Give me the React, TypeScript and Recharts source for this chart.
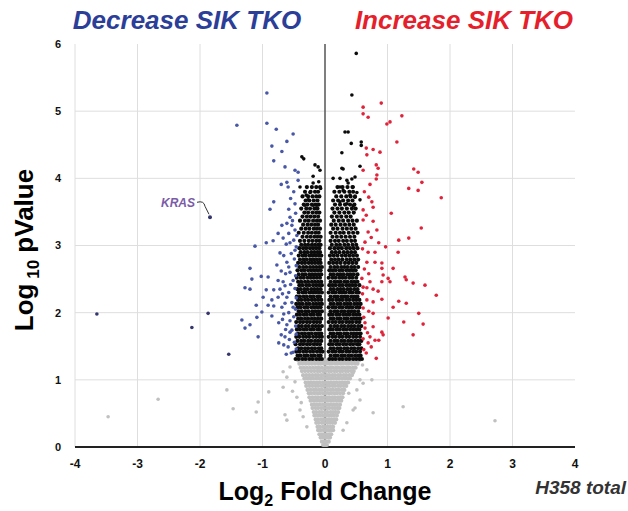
import React from 'react';
import { ScatterChart, Scatter, XAxis, YAxis, CartesianGrid } from 'recharts';

const xTicks = [-4, -3, -2, -1, 0, 1, 2, 3, 4];
const yTicks = [0, 1, 2, 3, 4, 5, 6];

// significant, down in SIK TKO  [log2FC, -log10 p]
const decreasePoints = [
  [-0.93, 5.27], [-1.41, 4.79], [-0.93, 4.82], [-0.78, 4.73], [-0.51, 4.66], [-0.61, 4.55],
  [-0.85, 4.48], [-0.69, 4.4], [-0.82, 4.26], [-0.64, 4.17], [-0.48, 4.12], [-0.43, 4.09],
  [-0.61, 3.94], [-0.7, 3.91], [-0.59, 3.87], [-0.43, 3.97], [-0.82, 3.65], [-0.88, 3.54],
  [-0.58, 3.54], [-0.56, 3.42], [-0.69, 3.3], [-0.61, 3.33], [-0.53, 3.3], [-0.48, 3.23],
  [-0.75, 3.18], [-0.67, 3.11], [-0.56, 3.04], [-0.48, 2.93], [-1.12, 2.99], [-0.94, 3.04],
  [-0.83, 3.07], [-0.72, 2.89], [-0.61, 2.75], [-0.77, 2.71], [-1.2, 2.66], [-1.17, 2.5],
  [-1.02, 2.54], [-0.91, 2.53], [-0.75, 2.48], [-0.67, 2.46], [-0.56, 2.6], [-0.51, 2.48],
  [-1.28, 2.37], [-1.2, 2.35], [-0.94, 2.34], [-0.82, 2.34], [-0.72, 2.35], [-0.99, 2.23],
  [-0.85, 2.19], [-0.75, 2.23], [-0.61, 2.23], [-1.1, 2.11], [-0.91, 2.11], [-0.82, 2.1],
  [-0.69, 2.08], [-0.51, 2.08], [-1.01, 2.01], [-1.09, 1.93], [-0.85, 1.95], [-1.33, 1.89],
  [-1.2, 1.82], [-1.28, 1.77], [-0.74, 1.85], [-0.61, 1.82], [-0.56, 1.71], [-1.07, 1.64],
  [-0.7, 1.67], [-0.64, 1.64], [-0.74, 1.55], [-0.59, 1.49], [-0.51, 1.41],
  [-0.47, 3.48], [-0.52, 3.37], [-0.45, 3.15], [-0.58, 3.18], [-0.5, 3.08], [-0.62, 3.02],
  [-0.46, 2.98], [-0.54, 2.88], [-0.66, 2.85], [-0.49, 2.8], [-0.58, 2.68], [-0.46, 2.7],
  [-0.7, 2.62], [-0.63, 2.58], [-0.47, 2.55], [-0.55, 2.42], [-0.64, 2.4], [-0.48, 2.36],
  [-0.58, 2.3], [-0.68, 2.28], [-0.46, 2.22], [-0.53, 2.15], [-0.64, 2.14], [-0.47, 2.05],
  [-0.58, 2.0], [-0.66, 1.98], [-0.5, 1.94], [-0.56, 1.88], [-0.68, 1.9], [-0.47, 1.8],
  [-0.53, 1.74], [-0.63, 1.75], [-0.46, 1.68], [-0.57, 1.6], [-0.49, 1.56], [-0.66, 1.52],
  [-0.46, 1.46], [-0.54, 1.4], [-0.62, 1.38], [-0.48, 3.62], [-0.55, 3.7], [-0.5, 3.8],
];

const decreaseFar = [[-3.65, 1.98], [-2.13, 1.78], [-1.87, 1.99], [-1.54, 1.38]];
const krasPoint = [[-1.84, 3.42]];

// significant, up in SIK TKO
const increasePoints = [
  [0.61, 5.06], [0.9, 5.12], [0.61, 4.96], [0.69, 4.91], [1.23, 4.93], [0.99, 4.81],
  [1.04, 4.84], [1.15, 4.54], [0.66, 4.45], [0.77, 4.43], [0.88, 4.39], [0.67, 4.35],
  [0.61, 4.12], [0.82, 4.2], [0.85, 4.15], [0.83, 4.05], [0.82, 3.99], [0.72, 3.91],
  [1.42, 4.14], [1.49, 4.09], [1.55, 3.94], [1.34, 3.85], [1.49, 3.82], [1.86, 3.71],
  [0.75, 3.65], [0.77, 3.57], [1.06, 3.48], [0.61, 3.53], [0.61, 3.38], [0.77, 3.36],
  [1.54, 3.26], [0.69, 3.2], [0.83, 3.23], [0.86, 3.04], [1.18, 3.08], [1.34, 3.11],
  [1.17, 2.9], [0.64, 3.05], [0.69, 2.9], [0.8, 2.9], [0.67, 2.75], [0.8, 2.75],
  [0.91, 2.74], [0.91, 2.66], [1.09, 2.66], [1.01, 2.51], [1.04, 2.46], [0.91, 2.46],
  [1.28, 2.53], [1.3, 2.49], [1.41, 2.44], [1.6, 2.41], [1.78, 2.26], [0.59, 2.51],
  [0.61, 2.38], [0.72, 2.46], [0.67, 2.37], [0.77, 2.35], [0.85, 2.32], [0.91, 2.2],
  [1.18, 2.17], [1.3, 2.14], [1.09, 2.08], [0.67, 2.19], [0.77, 2.16], [0.61, 2.07],
  [0.77, 1.99], [1.5, 1.99], [1.01, 1.92], [1.26, 1.86], [1.57, 1.83], [1.41, 1.67],
  [0.64, 1.85], [0.77, 1.79], [0.64, 1.77], [0.91, 1.71], [0.72, 1.64], [0.61, 1.61],
  [0.86, 1.59], [0.93, 1.67], [0.69, 1.55], [0.8, 1.59], [0.74, 1.49], [0.82, 1.32],
  [0.63, 3.8], [0.7, 3.72], [0.66, 3.45], [0.74, 3.12], [0.6, 2.95], [0.63, 2.65],
  [0.7, 2.58], [0.6, 2.28], [0.7, 2.02], [0.62, 1.93], [0.68, 1.7], [0.62, 1.45],
  [0.66, 1.4], [0.97, 2.98], [0.93, 2.56],
];

// significant but small fold change, scattered top of the two columns
const blackSparse = [
  [0.5, 5.86], [0.43, 5.24], [0.32, 4.69], [0.37, 4.69], [0.42, 4.52], [0.58, 4.54],
  [0.58, 4.49], [0.27, 4.38], [0.56, 4.18], [0.29, 4.14], [0.13, 4.0], [0.24, 4.0],
  [0.35, 3.97], [0.43, 3.99], [0.48, 4.02], [0.27, 4.15], [0.24, 3.87], [0.29, 3.82],
  [0.37, 3.93], [0.45, 3.87], [0.51, 3.79], [0.4, 3.75], [0.48, 3.72], [0.56, 3.68],
  [0.24, 3.65], [0.35, 3.62], [0.45, 3.59],
  [-0.37, 4.32], [-0.34, 4.29], [-0.16, 4.2], [-0.11, 4.17], [-0.08, 4.12], [-0.19, 3.93],
  [-0.4, 3.87], [-0.24, 3.79], [-0.3, 3.75], [-0.27, 3.68], [-0.32, 3.6], [-0.19, 3.6],
  [-0.13, 3.6], [-0.19, 4.03], [-0.1, 3.95], [-0.07, 3.85],
];

// dense part of the black columns, one line per -log10 p row (hundredths): log2FC values
const blackRows = `
131: -47 -42 -36 -31 -25 -20 -14 -9 -5 7 12 17 23 28 34 39 45 50 55 59
136: -44 -39 -33 -28 -22 -17 -11 -7 9 15 20 26 31 37 42 48 53 57
142: -46 -41 -35 -30 -24 -19 -13 -8 -4 6 12 17 23 28 34 39 45 50 56
147: -43 -38 -32 -27 -21 -16 -10 -6 9 14 20 25 31 36 42 47 53 58
153: -47 -40 -35 -29 -24 -18 -13 -8 7 12 18 23 29 34 40 45 51 55
158: -44 -38 -33 -27 -22 -16 -11 -6 9 15 20 26 31 37 42 48 53 58
164: -46 -41 -35 -30 -25 -19 -14 -9 -5 6 12 17 23 28 34 39 45 50 56
169: -43 -37 -32 -26 -21 -15 -10 -6 9 14 20 25 31 36 42 47 52 57
175: -45 -40 -34 -29 -23 -18 -12 -8 7 12 18 23 29 34 40 45 50 55
180: -42 -37 -31 -26 -20 -15 -10 -5 9 15 20 26 31 37 42 47 53 58
186: -46 -40 -35 -29 -24 -18 -13 -8 6 12 17 23 28 34 39 44 50 55
191: -43 -38 -32 -27 -21 -16 -11 -6 9 14 20 25 31 36 42 47 52 57
197: -45 -40 -34 -29 -23 -18 -12 -8 7 12 18 23 29 34 39 45 50 55
202: -42 -37 -31 -26 -20 -15 -10 -5 9 15 20 26 31 37 42 47 53
208: -44 -39 -33 -28 -22 -17 -12 -7 6 12 17 23 28 34 39 44 50 55
213: -46 -41 -36 -30 -25 -19 -14 -9 -5 9 14 20 25 31 36 41 47 52 57
219: -43 -38 -32 -27 -21 -16 -11 -6 7 12 18 23 28 34 39 45 50 55
224: -45 -40 -34 -29 -23 -18 -12 -8 9 15 20 26 31 36 42 47 52
230: -42 -36 -31 -25 -20 -15 -10 -5 6 12 17 23 28 33 39 44 50 54
235: -44 -39 -33 -28 -22 -17 -12 -7 9 14 20 25 30 36 41 47 52
241: -41 -36 -30 -25 -19 -14 -9 -5 7 12 17 23 28 34 39 44 49 55
246: -43 -38 -32 -27 -21 -16 -11 -6 9 15 20 25 31 36 42 47 52
252: -45 -39 -34 -28 -23 -18 -13 -8 6 12 17 23 28 33 39 44 50
257: -42 -36 -31 -25 -20 -15 -10 -6 9 14 20 25 30 36 41 46 52
263: -44 -38 -33 -27 -22 -17 -12 -7 7 12 17 23 28 34 39 44 49
268: -41 -35 -30 -24 -19 -14 -9 -5 9 15 20 26 31 36 42 47 53
274: -43 -37 -32 -26 -21 -16 -11 -7 7 13 19 25 32 38 44 50
279: -40 -34 -29 -23 -18 -13 -8 10 16 22 28 35 41 47 53
285: -42 -36 -31 -25 -20 -15 -10 -6 8 14 20 27 33 39 45 51
290: -39 -33 -28 -22 -17 -12 -8 11 17 23 30 36 42 48
296: -41 -35 -30 -24 -19 -14 -9 8 15 21 27 34 40 46 52
301: -38 -32 -27 -21 -16 -11 -7 11 18 24 31 37 44 50
307: -40 -33 -26 -20 -14 -9 9 16 22 29 35 42 48
313: -36 -29 -23 -17 -12 -7 12 19 26 33 40 47
319: -42 -34 -27 -21 -15 -10 9 17 24 30 38 45 52
325: -38 -31 -25 -18 -13 -8 13 20 28 35 42 49
331: -35 -28 -22 -16 -11 10 17 25 32 39 46
337: -40 -32 -26 -19 -13 -8 14 22 29 37 44 51
343: -36 -29 -23 -17 -11 11 19 26 34 41
349: -33 -27 -20 -14 -9 15 23 31 38 46
355: -38 -30 -24 -17 -12 12 20 27 35 43 49
361: -34 -28 -21 -15 -10 16 24 32 40 47
367: -31 -25 -18 -12 13 21 29 37 44
373: -36 -27 -20 -14 -9 18 26 34 41 48
380: -32 -23 -16 -11 15 23 31 39 45
387: -29 -21 -14 -8 20 28 36 44
`;

// not significant, same layout
const grayRows = `
3: -3 0 3
8: -5 -1 2 6
14: -7 -3 1 5 8
19: -9 -5 -1 3 7 10
25: -11 -7 -2 2 6 10 13
30: -12 -8 -3 1 5 9 13
36: -14 -10 -5 -1 4 8 12 16
41: -15 -11 -6 -2 3 7 11 15 18
47: -17 -12 -8 -3 1 6 10 14 19
52: -18 -14 -9 -5 0 4 9 13 17 21
58: -20 -15 -11 -6 -2 3 7 12 16 20 23
63: -21 -17 -12 -8 -3 1 6 10 15 19 24
69: -23 -18 -14 -9 -5 0 4 9 13 18 22 26
74: -25 -20 -15 -11 -6 -2 3 7 12 16 21 25 28
80: -26 -22 -17 -12 -8 -3 1 6 10 15 19 24 29
85: -28 -23 -18 -14 -9 -5 0 4 9 13 18 22 27 31
91: -30 -25 -20 -15 -11 -6 -2 3 7 12 16 21 25 30 34
96: -31 -26 -22 -17 -12 -8 -3 1 6 10 15 19 24 28 33 37
102: -33 -28 -23 -19 -14 -9 -5 0 4 9 13 18 22 27 31 36 40
107: -35 -30 -25 -20 -15 -11 -6 -2 3 7 12 16 21 25 30 34 39 43
113: -37 -32 -27 -22 -17 -12 -8 -3 1 6 10 15 19 24 28 33 37 42 46
118: -39 -34 -29 -24 -19 -14 -10 -5 0 4 9 13 18 22 27 31 36 40 45 49
124: -41 -36 -31 -26 -21 -16 -11 -7 -2 2 7 11 16 20 25 29 34 38 43 48 52
129: -43 -38 -33 -28 -23 -18 -13 -9 -4 1 5 10 14 19 23 28 32 37 41 46 51 55
`;

const graySparse = [
  [-3.47, 0.45], [-2.67, 0.71], [-1.57, 0.85], [-1.47, 0.57], [-1.1, 0.52], [-1.07, 0.67],
  [-0.9, 0.82], [-0.67, 0.89], [-0.64, 0.48], [-0.61, 0.4], [1.25, 0.6], [0.77, 0.51],
  [2.72, 0.39], [-0.67, 1.12], [-0.56, 1.19], [-0.61, 1.04], [-0.48, 0.97], [-0.45, 0.74],
  [-0.4, 0.55], [-0.35, 0.45], [-0.29, 0.3], [0.45, 1.1], [0.51, 0.85], [0.56, 0.7],
  [0.45, 0.55], [0.35, 0.36], [0.29, 0.25], [0.67, 1.15], [0.61, 0.95], [0.75, 1.0],
  [0.56, 1.0], [0.48, 0.58], [-0.52, 0.83], [-0.38, 0.66], [0.38, 0.8], [0.6, 1.22],
];

const toPts = (a: number[][]) => a.map(([x, y]) => ({ x, y }));
const parseRows = (rows: string) =>
  rows
    .trim()
    .split('\n')
    .flatMap((line) => {
      const [y, xs] = line.split(':');
      return xs.trim().split(/\s+/).map((v) => ({ x: Number(v) / 100, y: Number(y) / 100 }));
    });

const dot = (fill: string, r = 1.8) => (p: any) => <circle cx={p.cx} cy={p.cy} r={r} fill={fill} />;

const krasShape = (p: any) => (
  <g>
    <circle cx={p.cx} cy={p.cy} r={2} fill='#34366e' />
    <path
      d={`M${p.cx - 13},${p.cy - 15} Q${p.cx - 6},${p.cy - 17} ${p.cx - 5},${p.cy - 11} L${p.cx - 1},${p.cy - 3}`}
      stroke='#333'
      strokeWidth={1}
      fill='none'
    />
    <text
      x={p.cx - 15}
      y={p.cy - 10}
      textAnchor='end'
      fontFamily='Arial, Liberation Sans, sans-serif'
      fontSize={12}
      fontWeight='bold'
      fontStyle='italic'
      fill='#7a5ba8'
    >
      KRAS
    </text>
  </g>
);

const gridH = (p: any) =>
  p.y1 < 50 || p.y1 > 440 ? (
    <g key={p.key} />
  ) : (
    <line key={p.key} x1={p.x1} x2={p.x2} y1={p.y1} y2={p.y2} stroke='#dedede' strokeWidth={1} />
  );

// the 0 line doubles as the y axis
const gridV = (p: any) => {
  if (p.x1 > 570) return <g key={p.key} />;
  const zero = p.index === 4;
  return (
    <line
      key={p.key}
      x1={p.x1}
      x2={p.x2}
      y1={p.y1}
      y2={p.y2}
      stroke={zero ? '#555' : '#dedede'}
      strokeWidth={zero ? 1.5 : 1}
    />
  );
};

const tickStyle = { fontSize: 11, fontWeight: 'bold', fill: '#111', fontFamily: 'Arial, Liberation Sans, sans-serif' };
const font = 'Arial, Liberation Sans, sans-serif';

const App = () => {
  return (
    <div style={{ position: 'absolute', left: 0, top: 0, width: 628, height: 511, background: '#fff' }}>
      <ScatterChart width={628} height={511} margin={{ top: 44, right: 53, bottom: 34, left: 45 }}>
        <CartesianGrid horizontal={gridH} vertical={gridV} />
        <XAxis
          type='number'
          dataKey='x'
          domain={[-4, 4]}
          ticks={xTicks}
          interval={0}
          tickLine={false}
          tickMargin={6}
          axisLine={{ stroke: '#222', strokeWidth: 2 }}
          tick={{ ...tickStyle, fontSize: 12 }}
          height={30}
        />
        <YAxis
          type='number'
          dataKey='y'
          domain={[0, 6]}
          ticks={yTicks}
          interval={0}
          tickLine={false}
          axisLine={false}
          tickMargin={8}
          tick={tickStyle}
          width={30}
        />
        <Scatter data={parseRows(grayRows)} shape={dot('#c0c0c0', 2.1)} isAnimationActive={false} />
        <Scatter data={toPts(graySparse)} shape={dot('#c0c0c0')} isAnimationActive={false} />
        <Scatter data={parseRows(blackRows)} shape={dot('#0b0b0b', 2.1)} isAnimationActive={false} />
        <Scatter data={toPts(blackSparse)} shape={dot('#0b0b0b')} isAnimationActive={false} />
        <Scatter data={toPts(decreasePoints)} shape={dot('#4858a6')} isAnimationActive={false} />
        <Scatter data={toPts(decreaseFar)} shape={dot('#34366e')} isAnimationActive={false} />
        <Scatter data={toPts(increasePoints)} shape={dot('#e0223a')} isAnimationActive={false} />
        <Scatter data={toPts(krasPoint)} shape={krasShape} isAnimationActive={false} />
      </ScatterChart>
      <svg
        width={628}
        height={511}
        style={{ position: 'absolute', left: 0, top: 0, pointerEvents: 'none' }}
        fontFamily={font}
        fontWeight='bold'
      >
        <text x={187} y={29} textAnchor='middle' fontSize={26} fontStyle='italic' fill='#2b3e98'>
          Decrease SIK TKO
        </text>
        <text x={464} y={29} textAnchor='middle' fontSize={26} fontStyle='italic' fill='#e51f2b'>
          Increase SIK TKO
        </text>
        <text x={325} y={500} textAnchor='middle' fontSize={25} fill='#000'>
          <tspan>Log</tspan>
          <tspan fontSize={16} dy={6}>2</tspan>
          <tspan dy={-6}> Fold Change</tspan>
        </text>
        <text transform='rotate(-90)' x={-250} y={33} textAnchor='middle' fontSize={26} fill='#000'>
          <tspan>Log</tspan>
          <tspan fontSize={17} dy={6}> 10</tspan>
          <tspan dy={-6}> pValue</tspan>
        </text>
        <text x={626} y={494} textAnchor='end' fontSize={19} fontStyle='italic' fill='#333'>
          H358 total
        </text>
      </svg>
    </div>
  );
};

export default App;
